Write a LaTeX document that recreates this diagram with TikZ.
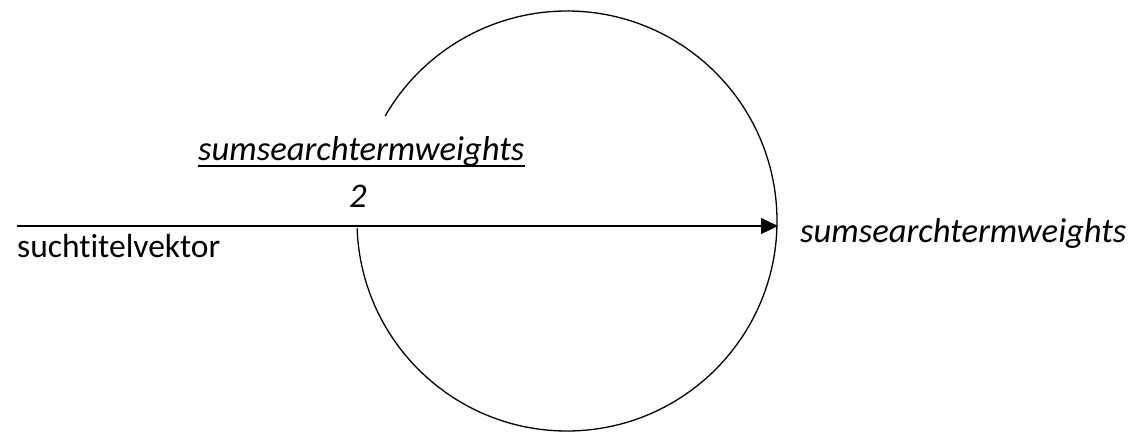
\documentclass[tikz,border=0pt]{standalone}
\usepackage{fontspec}
\setmainfont{Carlito}[RawFeature={-liga}]
\usetikzlibrary{arrows.meta}
\begin{document}
\begin{tikzpicture}[x=1pt,y=1pt,
  flow/.style={line width=1.3pt,-{Triangle[length=17pt,width=16pt]}},
  proc/.style={line width=1.3pt},
  lbl/.style={inner sep=0pt,font=\fontsize{33.5}{40}\selectfont},
  ilbl/.style={lbl,font=\fontsize{34.6}{41}\selectfont\itshape}]
\useasboundingbox (0,0) rectangle (1133,432);
% process circle (open arc)
\coordinate (c) at (567,211);
\draw[proc] ([shift={(182:210)}]c) arc[start angle=182,end angle=510,radius=210];
% data flow
\coordinate (in) at (17,206);
\coordinate (out) at (778,206);
\draw[flow] (in) -- (out);
% labels
\node[lbl,anchor=base west] (src) at (17,175) {suchtitelvektor};
\node[ilbl,anchor=base west] (pname) at (198,272) {sumsearchtermweights};
\draw[line width=1.3pt] ([yshift=-6pt]pname.base west) -- ([yshift=-6pt]pname.base east);
\node[ilbl,anchor=base] (pnum) at (358,225) {2};
\node[ilbl,anchor=base west] (dst) at (800,190) {sumsearchtermweights};
\end{tikzpicture}
\end{document}
